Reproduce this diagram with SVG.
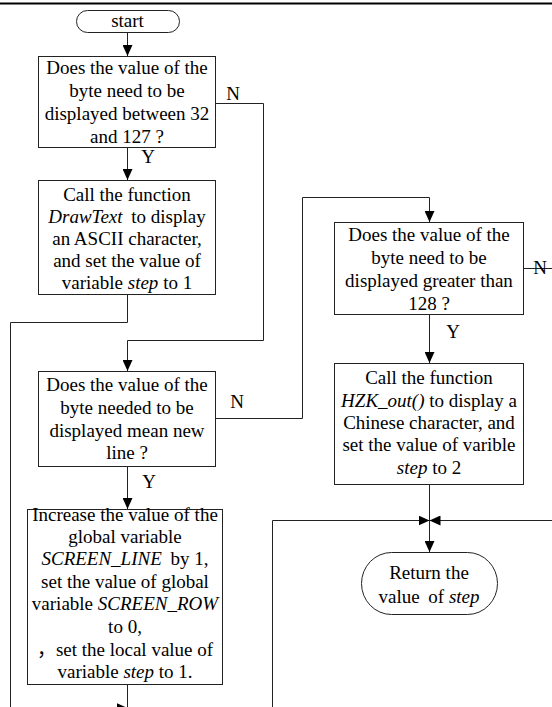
<svg xmlns="http://www.w3.org/2000/svg" width="552" height="707" viewBox="0 0 552 707">
<defs>
<marker id="arr" markerUnits="userSpaceOnUse" markerWidth="12" markerHeight="10" refX="11" refY="5" orient="auto">
<path d="M0,0 L11,5 L0,10 Z" fill="#000"/>
</marker>
<style>
.box{fill:#fff;stroke:#222;stroke-width:1}
.t{font-family:"Liberation Serif","Noto Sans CJK SC",serif;font-size:19px;fill:#000;text-anchor:middle}
.i{font-style:italic}
.c{fill:none;stroke:#222;stroke-width:1}
.ca{fill:none;stroke:#222;stroke-width:1;marker-end:url(#arr)}
</style>
</defs>
<rect width="552" height="707" fill="#fff"/>
<line x1="0" y1="3.5" x2="552" y2="3.5" stroke="#000" stroke-width="2"/>

<g id="connectors">
<path class="ca" d="M127.5,32 V56"/>
<path class="ca" d="M127.5,147 V180"/>
<path class="ca" d="M215,103.5 H263.5 V340.5 H127.5 V371"/>
<path class="ca" d="M127.5,295 V322.5 H10.5 V708 H127.5"/>
<path class="c" d="M127.5,684 V707"/>
<path class="ca" d="M127.5,466 V509"/>
<path class="ca" d="M215,418.5 H302.5 V197.5 H429.5 V222"/>
<path class="ca" d="M429.5,315 V363"/>
<path class="c" d="M524,268.5 H552"/>
<path class="ca" d="M429.5,485 V552"/>
<path class="ca" d="M272.5,707 V520.5 H429.5"/>
<path class="ca" d="M552,520.5 H429.5"/>
<text class="t" x="233" y="100">N</text>
<text class="t" x="148" y="163">Y</text>
<text class="t" x="237" y="408">N</text>
<text class="t" x="149" y="488">Y</text>
<text class="t" x="453" y="338">Y</text>
<text class="t" x="540" y="274">N</text>
</g>

<g id="start">
<rect class="box" x="76.5" y="10.5" width="103" height="22" rx="11"/>
<text class="t" x="127.5" y="27">start</text>
</g>

<g id="check-ascii">
<rect class="box" x="38.5" y="56.5" width="177" height="91"/>
<text class="t" x="127" y="74">Does the value of the</text>
<text class="t" x="127" y="97">byte need to be</text>
<text class="t" x="127" y="120">displayed between 32</text>
<text class="t" x="127" y="143">and 127 ?</text>
</g>

<g id="draw-ascii">
<rect class="box" x="38.5" y="180.5" width="177" height="114"/>
<text class="t" x="127" y="201">Call the function</text>
<text class="t" x="127" y="223"><tspan class="i">DrawText</tspan><tspan dx="4"> to display</tspan></text>
<text class="t" x="127" y="245">an ASCII character,</text>
<text class="t" x="127" y="267">and set the value of</text>
<text class="t" x="127" y="289">variable <tspan class="i">step</tspan> to 1</text>
</g>

<g id="check-newline">
<rect class="box" x="38.5" y="371.5" width="177" height="95"/>
<text class="t" x="127" y="391">Does the value of the</text>
<text class="t" x="127" y="414">byte needed to be</text>
<text class="t" x="127" y="437">displayed mean new</text>
<text class="t" x="127" y="459">line ?</text>
</g>

<g id="newline">
<rect class="box" x="27.5" y="509.5" width="195" height="175"/>
<text class="t" x="125" y="520.5">Increase the value of the</text>
<text class="t" x="125" y="542.5">global variable</text>
<text class="t" x="125" y="565"><tspan class="i">SCREEN_LINE</tspan><tspan dx="4"> by 1,</tspan></text>
<text class="t" x="125" y="587.5">set the value of global</text>
<text class="t" x="125" y="610">variable <tspan class="i">SCREEN_ROW</tspan></text>
<text class="t" x="125" y="633">to 0,</text>
<text class="t" x="125" y="655.5">，set the local value of</text>
<text class="t" x="125" y="678">variable <tspan class="i">step</tspan> to 1.</text>
</g>

<g id="check-chinese">
<rect class="box" x="334.5" y="222.5" width="189" height="92"/>
<text class="t" x="429" y="241">Does the value of the</text>
<text class="t" x="429" y="264">byte need to be</text>
<text class="t" x="429" y="287">displayed greater than</text>
<text class="t" x="429" y="310">128 ?</text>
</g>

<g id="draw-chinese">
<rect class="box" x="334.5" y="363.5" width="189" height="121"/>
<text class="t" x="429" y="384">Call the function</text>
<text class="t" x="429" y="407"><tspan class="i">HZK_out()</tspan> to display a</text>
<text class="t" x="429" y="429">Chinese character, and</text>
<text class="t" x="429" y="451">set the value of varible</text>
<text class="t" x="429" y="474"><tspan class="i">step</tspan> to 2</text>
</g>

<g id="return">
<rect class="box" x="361.5" y="552.5" width="136" height="62" rx="30" ry="31"/>
<text class="t" x="429" y="579">Return the</text>
<text class="t" x="429" y="603">value<tspan dx="4"> of </tspan><tspan class="i">step</tspan></text>
</g>
</svg>
